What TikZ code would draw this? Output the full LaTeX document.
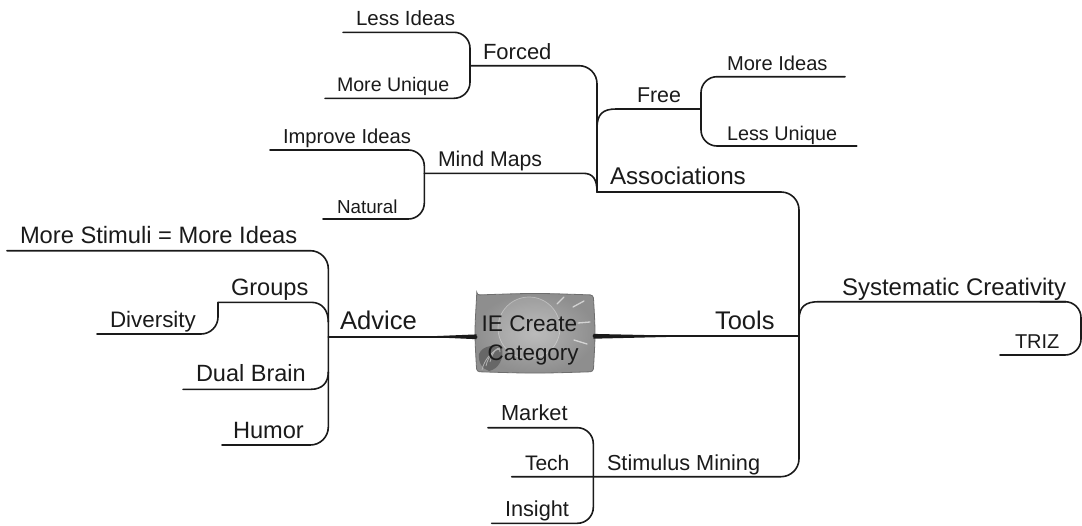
\documentclass[tikz,border=0pt]{standalone}
\usepackage{fontspec}
\setmainfont{Liberation Sans}
\newcommand\fsz[1]{\fontsize{#1}{#1}\selectfont}
\definecolor{ink}{HTML}{1A1A1A}
\definecolor{boxin}{HTML}{B2B2B2}
\definecolor{boxout}{HTML}{8E8E8E}
\definecolor{boxedge}{HTML}{6E6E6E}
\definecolor{screw}{HTML}{5A5A5A}
\tikzset{
  lbl/.style={anchor=base west, inner sep=0pt, outer sep=0pt, text=ink},
  conn/.style={draw=ink, line width=1.6pt, line cap=round},
  ray/.style={draw=white, draw opacity=0.6, line width=1.3pt, line cap=round},
}
\begin{document}
\begin{tikzpicture}[x=1pt,y=-1pt]
\useasboundingbox (0,0) rectangle (1082,525);
% ---------- central node ----------
\path[shade, inner color=boxin, outer color=boxout, draw=boxedge, line width=0.8pt, rounded corners=3pt]
  (476.7,295) .. controls (535,293) .. (593.3,295) .. controls (595.5,333) .. (593.3,371.7)
  .. controls (535,373.5) .. (476.7,371.7) .. controls (474.5,333) .. cycle;
\fill[white, opacity=0.12] (529,328) circle (31);
\draw[white, draw opacity=0.35, line width=0.7pt] (529,328) circle (31);
\draw[ray] (557,304) -- (564,297);
\draw[ray] (573,307) -- (584,301);
\draw[ray] (578,323) -- (590,322);
\draw[ray] (574,340) -- (587,344);
\fill[screw, opacity=0.75] (479,354) .. controls (483,345) and (495,344) .. (502,349)
  .. controls (504,358) and (499,369) .. (489,371) .. controls (482,369) and (478,362) .. cycle;
\foreach \d in {0,4,8}
  \draw[gray!60, line width=0.8pt] (482+\d,370-\d) .. controls (484+\d,360-\d) and (492+\d,351-\d) .. (500,348+\d*0.5);
\node[lbl, font=\fsz{22.6}] (ie) at (481.7,331.7) {IE Create};
\node[lbl, font=\fsz{22.4}] (cat) at (487.7,360) {Category};
\coordinate (boxW) at (476.7,336.7);
\coordinate (boxE) at (593.3,336.2);
% ---------- main lines ----------
\coordinate (advJ) at (328.3,336.7);
\coordinate (toolJ) at (799,336.2);
\draw[conn] (advJ) -- (boxW);
\draw[conn] (boxE) -- (toolJ);
\fill[ink] (420,336.7) -- (476.7,334.4) -- (476.7,339.2) -- cycle;
\fill[ink] (593.3,333.9) -- (593.3,338.7) -- (700,336.2) -- cycle;
% ---------- Tools side ----------
\coordinate (assocJ) at (597,192);
\coordinate (forcedE) at (470,65.7);
\coordinate (tech) at (511.7,476.7);
\draw[conn, rounded corners=18pt] (forcedE) -- (597,65.7) -- (assocJ);
\draw[conn, rounded corners=18pt] (assocJ) -- (799,192) -- (799,476.7) -- (tech);
% Forced children
\draw[conn, rounded corners=16pt] (343,32.3) -- (470,32.3) -- (470,98.3) -- (325,98.3);
% Mind Maps
\coordinate (mmW) at (424.3,173.3);
\draw[conn] (mmW) -- (583,173.3) .. controls (593,173.3) and (597,179) .. (assocJ);
\draw[conn, rounded corners=16pt] (270,150) -- (424.3,150) -- (424.3,219) -- (323,219);
% Free
\coordinate (freeE) at (701,109);
\draw[conn] (597,128) .. controls (597,114) and (603,109) .. (616,109) -- (freeE);
\draw[conn, rounded corners=16pt] (845,76.7) -- (701,76.7) -- (701,146) -- (856.7,146);
% Stimulus Mining children
\draw[conn, rounded corners=16pt] (488,427.7) -- (593.3,427.7) -- (593.3,523.3) -- (491.7,523.3);
% Systematic Creativity
\draw[conn] (799,320) .. controls (799,306) and (806,301.7) .. (819,301.7) -- (1066,301.7);
\draw[conn, rounded corners=16pt] (1040,301.7) -- (1081,301.7) -- (1081,355) -- (1000,355);
% ---------- Advice side ----------
\draw[conn, rounded corners=18pt] (7,250.7) -- (328.3,250.7) -- (328.3,445) -- (222,445);
\draw[conn] (218,302.3) -- (311,302.3) .. controls (322,302.3) and (328.3,310) .. (328.3,322);
\draw[conn, rounded corners=17pt] (218,302.3) -- (218,334) -- (97,334);
\draw[conn] (183,389.3) -- (311,389.3) .. controls (322,389.3) and (328.3,383) .. (328.3,372);
% ---------- labels ----------
\node[lbl, font=\fsz{20.5}] (lessideas) at (356,25.7) {Less Ideas};
\node[lbl, font=\fsz{19.6}] (moreunique) at (337,91) {More Unique};
\node[lbl, font=\fsz{22}] (forced) at (483,59) {Forced};
\node[lbl, font=\fsz{21.3}] (mindmaps) at (438,166.7) {Mind Maps};
\node[lbl, font=\fsz{20.2}] (improve) at (283,143.3) {Improve Ideas};
\node[lbl, font=\fsz{18.8}] (natural) at (337,213) {Natural};
\node[lbl, font=\fsz{21.4}] (free) at (637,102.3) {Free};
\node[lbl, font=\fsz{20.1}] (moreideas) at (727,70.7) {More Ideas};
\node[lbl, font=\fsz{19.8}] (lessunique) at (727,140) {Less Unique};
\node[lbl, font=\fsz{24.2}] (assoc) at (610,184) {Associations};
\node[lbl, font=\fsz{25.5}] (tools) at (715,329) {Tools};
\node[lbl, font=\fsz{24}] (syscr) at (842,295) {Systematic Creativity};
\node[lbl, font=\fsz{20}] (triz) at (1015,348) {TRIZ};
\node[lbl, font=\fsz{25.6}] (advice) at (340,329) {Advice};
\node[lbl, font=\fsz{23.7}] (stimuli) at (20,243.3) {More Stimuli = More Ideas};
\node[lbl, font=\fsz{23.6}] (groups) at (231,295) {Groups};
\node[lbl, font=\fsz{22.4}] (diversity) at (110,327) {Diversity};
\node[lbl, font=\fsz{23.5}] (dualbrain) at (196,381.7) {Dual Brain};
\node[lbl, font=\fsz{23.6}] (humor) at (233,438) {Humor};
\node[lbl, font=\fsz{21.7}] (stimmin) at (607,470) {Stimulus Mining};
\node[lbl, font=\fsz{21.8}] (market) at (501,420.7) {Market};
\node[lbl, font=\fsz{21}] (techl) at (525,470.7) {Tech};
\node[lbl, font=\fsz{21.7}] (insight) at (505,516.7) {Insight};
\end{tikzpicture}
\end{document}
